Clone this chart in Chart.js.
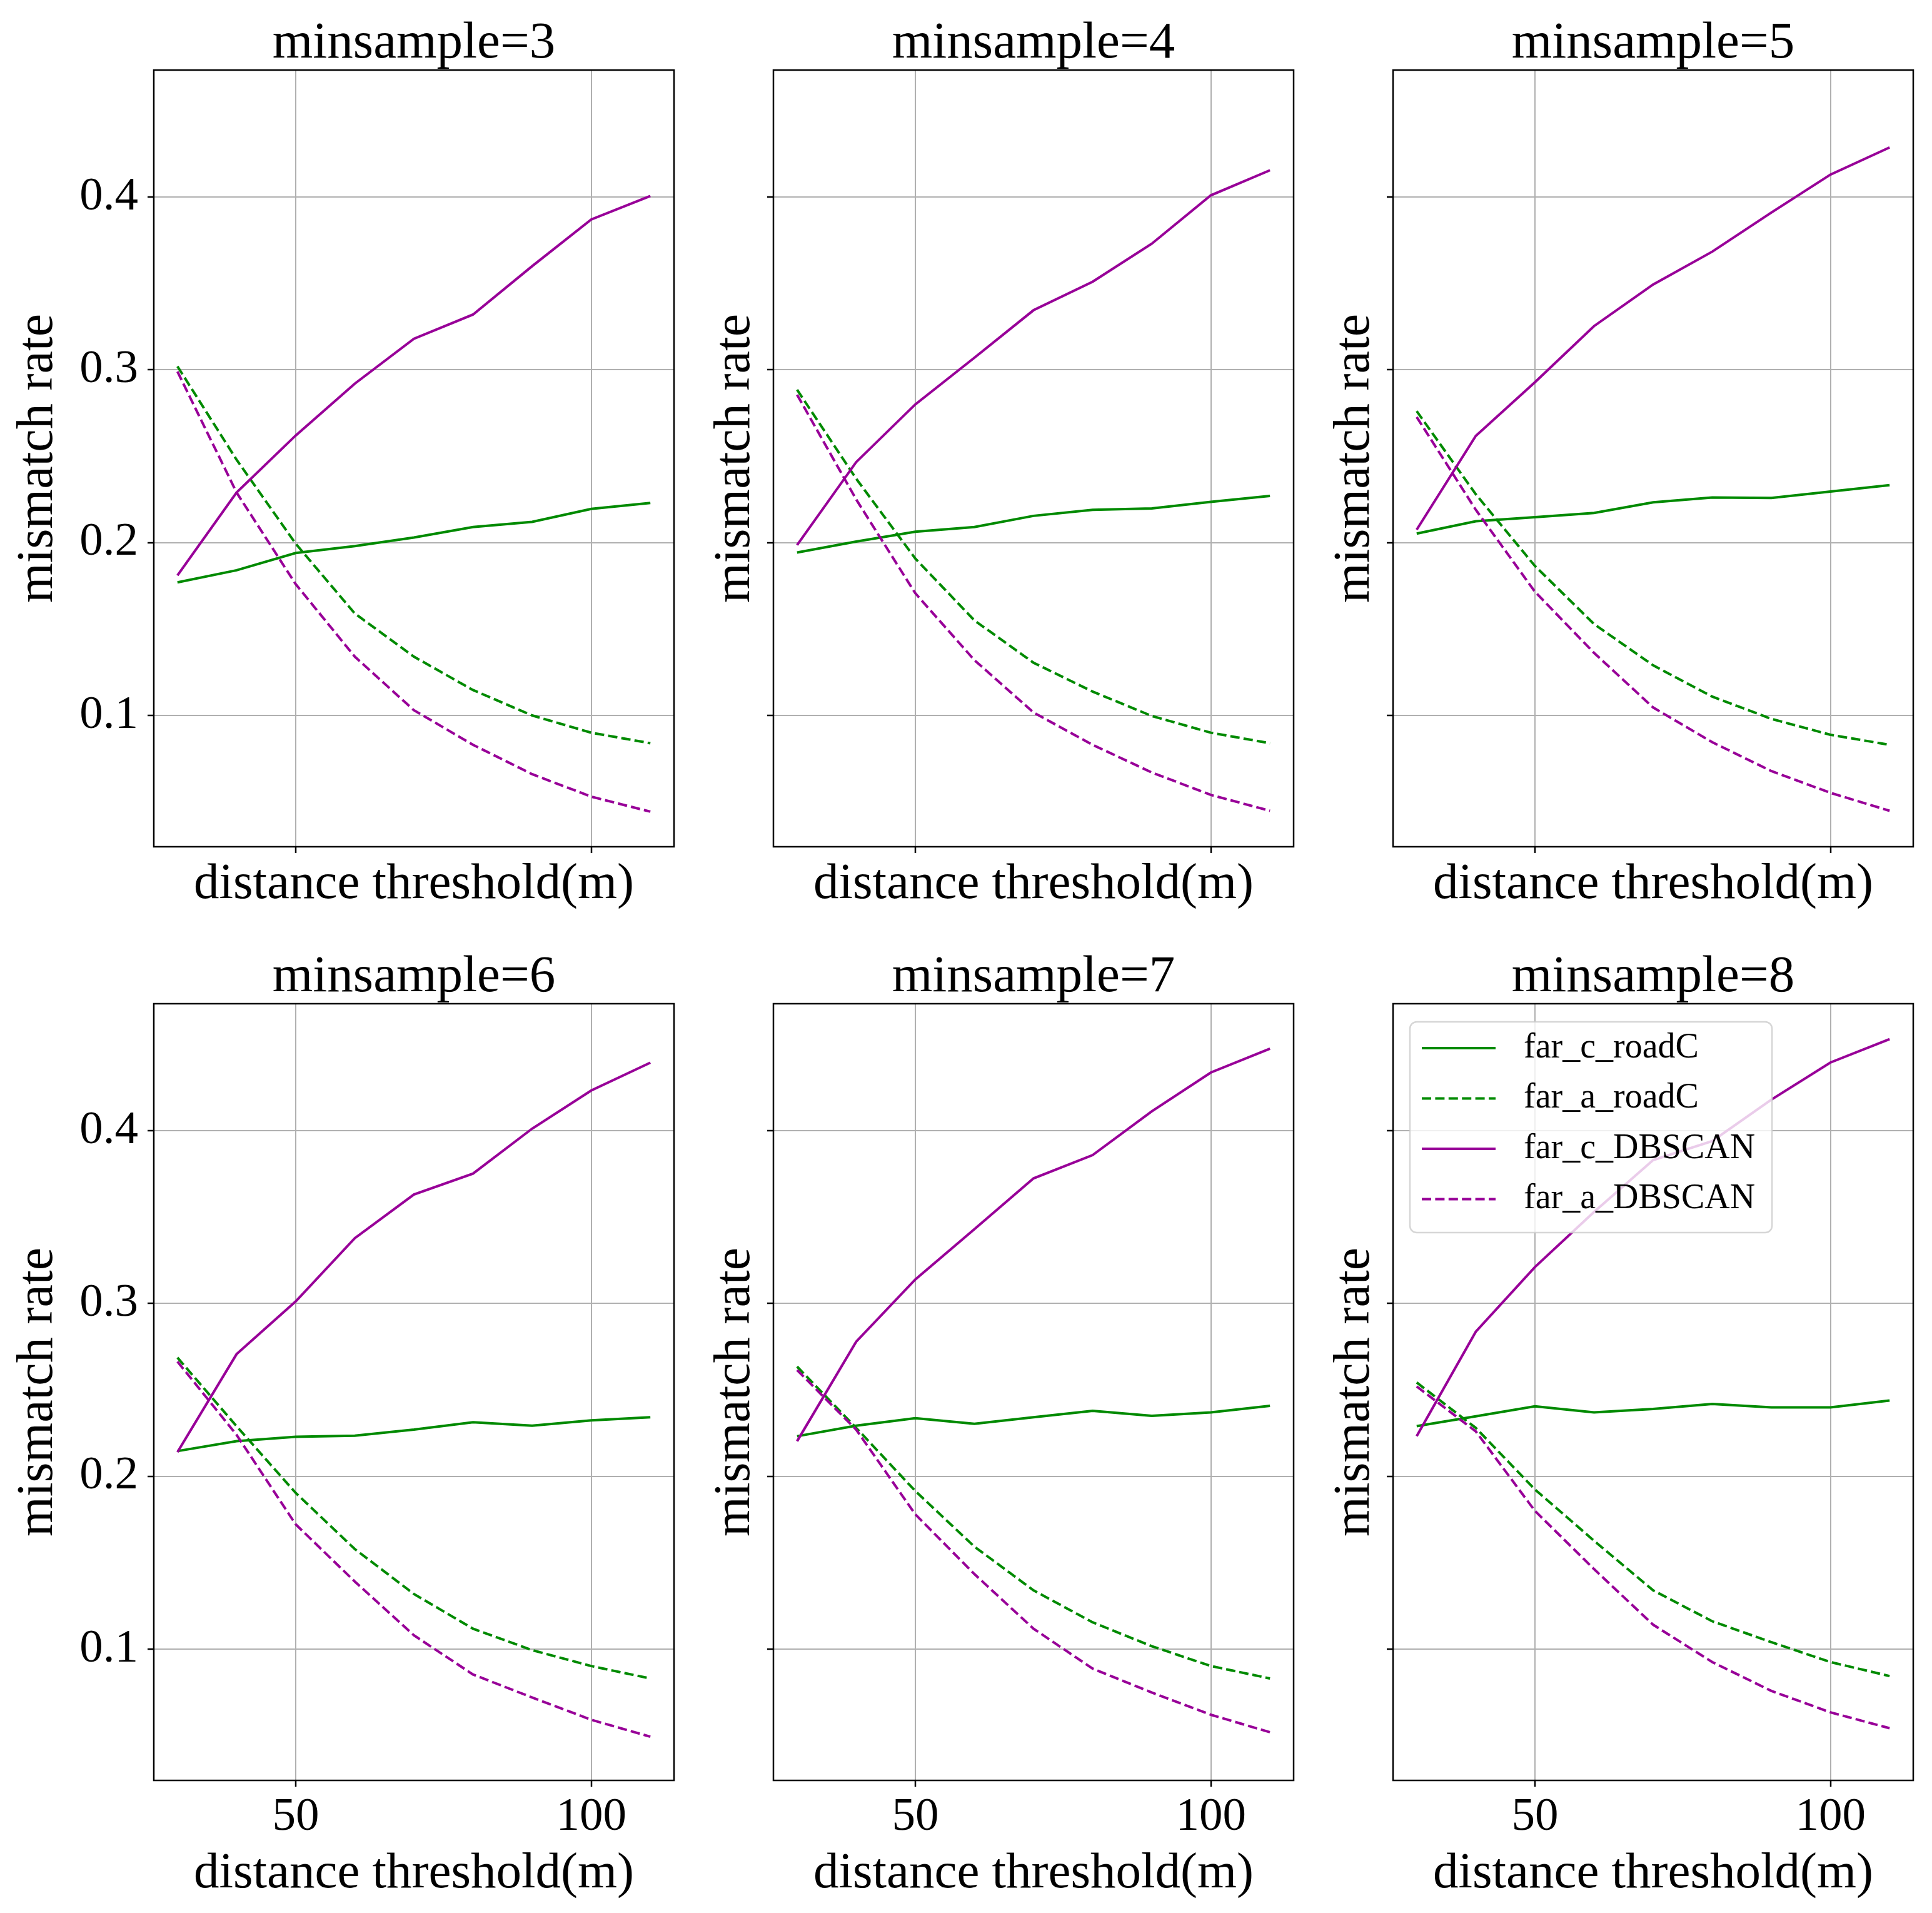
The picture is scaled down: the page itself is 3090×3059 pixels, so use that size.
<!DOCTYPE html>
<html lang="en">
<head>
<meta charset="UTF-8">
<title>mismatch rate vs distance threshold</title>
<script src="https://cdn.jsdelivr.net/npm/chart.js"></script>
<style>
  html, body { margin: 0; padding: 0; background: #fff; }
  body { width: 3090px; height: 3059px; position: relative; overflow: hidden; }
  canvas { position: absolute; }
</style>
</head>
<body>
<script>
// x values shared by every panel
const distances = [30, 40, 50, 60, 70, 80, 90, 100, 110];
const minSamples = [3, 4, 5, 6, 7, 8];

// one row per minsample value (3..8)
const farCRoadC = [
  [0.177, 0.184, 0.194, 0.198, 0.203, 0.209, 0.212, 0.2195, 0.223],
  [0.1943, 0.2006, 0.2063, 0.209, 0.2155, 0.219, 0.2198, 0.2236, 0.227],
  [0.2052, 0.2124, 0.2147, 0.2172, 0.2233, 0.2261, 0.2259, 0.2296, 0.2333],
  [0.2146, 0.2203, 0.2229, 0.2235, 0.227, 0.2313, 0.2293, 0.2324, 0.2342],
  [0.2232, 0.2293, 0.2336, 0.2304, 0.2342, 0.2379, 0.235, 0.237, 0.2408],
  [0.229, 0.2347, 0.2405, 0.237, 0.239, 0.2419, 0.2399, 0.2399, 0.2439]
];
const farARoadC = [
  [0.302, 0.248, 0.1994, 0.159, 0.134, 0.1147, 0.100, 0.090, 0.0839],
  [0.2885, 0.237, 0.1908, 0.155, 0.1305, 0.1138, 0.0997, 0.090, 0.0839],
  [0.2761, 0.228, 0.1865, 0.1529, 0.129, 0.1109, 0.098, 0.0888, 0.083],
  [0.2687, 0.229, 0.1904, 0.1579, 0.1319, 0.1118, 0.0994, 0.0902, 0.083],
  [0.2635, 0.228, 0.1915, 0.1593, 0.134, 0.1155, 0.1017, 0.0902, 0.083],
  [0.2543, 0.228, 0.1924, 0.1627, 0.134, 0.1161, 0.104, 0.0925, 0.0844]
];
const farCDBSCAN = [
  [0.181, 0.229, 0.262, 0.292, 0.318, 0.332, 0.360, 0.387, 0.4006],
  [0.1986, 0.2466, 0.280, 0.307, 0.3345, 0.351, 0.373, 0.401, 0.4155],
  [0.2075, 0.2618, 0.2928, 0.3253, 0.3494, 0.3684, 0.391, 0.413, 0.4287],
  [0.214, 0.2707, 0.3012, 0.3378, 0.3631, 0.3752, 0.4012, 0.4233, 0.4394],
  [0.2203, 0.2779, 0.3139, 0.343, 0.3724, 0.3859, 0.4112, 0.4337, 0.4475],
  [0.2232, 0.2837, 0.3211, 0.353, 0.383, 0.394, 0.418, 0.4395, 0.453]
];
const farADBSCAN = [
  [0.299, 0.229, 0.176, 0.134, 0.103, 0.083, 0.066, 0.053, 0.0443],
  [0.2856, 0.225, 0.1707, 0.132, 0.1017, 0.083, 0.067, 0.054, 0.0448],
  [0.2727, 0.219, 0.1716, 0.1362, 0.1046, 0.0845, 0.0678, 0.0552, 0.0448],
  [0.2664, 0.224, 0.1722, 0.1391, 0.108, 0.0853, 0.072, 0.0591, 0.0493],
  [0.2615, 0.227, 0.178, 0.1434, 0.1118, 0.0887, 0.0749, 0.062, 0.0519],
  [0.252, 0.226, 0.18, 0.1463, 0.1141, 0.0925, 0.0758, 0.0634, 0.0542]
];

const seriesNames = ['far_c_roadC', 'far_a_roadC', 'far_c_DBSCAN', 'far_a_DBSCAN'];
const xTicks = [50, 100];
const yTicks = [0.1, 0.2, 0.3, 0.4];

// styling / layout
const FONT = "'Liberation Serif', 'Times New Roman', serif";
const GREEN = '#008a00';
const PURPLE = '#980098';
const DASH = [15, 6.4];
const LINE_W = 4;
const seriesStyle = [
  { color: GREEN, dash: [] },
  { color: GREEN, dash: DASH },
  { color: PURPLE, dash: [] },
  { color: PURPLE, dash: DASH }
];

const axesLeft = [246, 1237, 2228];
const axesWidth = 832;
const axesTop = [112, 1605];
const axesHeight = 1242;
const canvasTop = [0, 1480];
const canvasBottom = [1474, 3059];
const PAD_RIGHT = 10;

// black frame around the plotting area (all four spines)
const framePlugin = {
  id: 'frame',
  afterDatasetsDraw(chart) {
    const { ctx, chartArea: a } = chart;
    ctx.save();
    ctx.strokeStyle = '#000';
    ctx.lineWidth = 2.5;
    ctx.strokeRect(a.left, a.top, a.right - a.left, a.bottom - a.top);
    ctx.restore();
  }
};

// matplotlib-like legend box in the upper-left corner of the axes
const boxLegendPlugin = {
  id: 'boxLegend',
  afterDraw(chart, args, opts) {
    if (!opts.show) return;
    const { ctx, chartArea: a } = chart;
    const x0 = a.left + 27, y0 = a.top + 29;
    ctx.save();
    ctx.font = '56px ' + FONT;
    const textW = Math.max(...chart.data.datasets.map(d => ctx.measureText(d.label).width));
    const w = 182 + textW + 27, h = 337, r = 11;
    ctx.beginPath();
    ctx.roundRect(x0, y0, w, h, r);
    ctx.fillStyle = 'rgba(255,255,255,0.8)';
    ctx.fill();
    ctx.lineWidth = 2.5;
    ctx.strokeStyle = 'rgba(204,204,204,0.8)';
    ctx.stroke();
    chart.data.datasets.forEach((d, i) => {
      const cy = y0 + 42 + i * 80.5;
      ctx.beginPath();
      ctx.setLineDash(d.borderDash || []);
      ctx.strokeStyle = d.borderColor;
      ctx.lineWidth = LINE_W;
      ctx.moveTo(x0 + 19, cy);
      ctx.lineTo(x0 + 137, cy);
      ctx.stroke();
      ctx.setLineDash([]);
      ctx.fillStyle = '#000';
      ctx.textBaseline = 'middle';
      ctx.textAlign = 'left';
      ctx.fillText(d.label, x0 + 182, cy);
    });
    ctx.restore();
  }
};

const allSeries = [farCRoadC, farARoadC, farCDBSCAN, farADBSCAN];

minSamples.forEach((ms, p) => {
  const row = Math.floor(p / 3), col = p % 3;
  const left = col === 0 ? 0 : axesLeft[col] - 160;
  const yBoxW = axesLeft[col] - left;
  const top = canvasTop[row];
  const titleBox = axesTop[row] - top;
  const xBoxH = canvasBottom[row] - (axesTop[row] + axesHeight);
  const width = yBoxW + axesWidth + PAD_RIGHT;
  const height = canvasBottom[row] - top;

  const canvas = document.createElement('canvas');
  canvas.width = width;
  canvas.height = height;
  canvas.style.left = left + 'px';
  canvas.style.top = top + 'px';
  document.body.appendChild(canvas);

  const datasets = allSeries.map((s, i) => ({
    label: seriesNames[i],
    data: distances.map((x, k) => ({ x: x, y: s[p][k] })),
    borderColor: seriesStyle[i].color,
    borderDash: seriesStyle[i].dash,
    borderWidth: LINE_W,
    pointRadius: 0,
    tension: 0,
    fill: false,
    order: 3 - i
  }));

  new Chart(canvas.getContext('2d'), {
    type: 'line',
    data: { datasets },
    options: {
      responsive: false,
      animation: false,
      devicePixelRatio: 1,
      events: [],
      layout: { padding: { right: PAD_RIGHT } },
      scales: {
        x: {
          type: 'linear',
          min: 26,
          max: 114,
          afterBuildTicks: s => { s.ticks = xTicks.map(v => ({ value: v })); },
          afterFit: s => { s.height = xBoxH; },
          border: { display: false },
          grid: { color: '#b0b0b0', lineWidth: 2, tickLength: 10, tickColor: '#000', tickWidth: 2.5 },
          ticks: {
            display: row === 1,
            padding: 12,
            color: '#000',
            font: { family: FONT, size: 75, lineHeight: 1 },
            maxRotation: 0,
            callback: v => String(v)
          },
          title: {
            display: true,
            text: 'distance threshold(m)',
            color: '#000',
            font: { family: FONT, size: 81, lineHeight: 1 },
            padding: { top: 0, bottom: row === 0 ? 18.5 : 22 }
          }
        },
        y: {
          type: 'linear',
          min: 0.024,
          max: 0.4735,
          afterBuildTicks: s => { s.ticks = yTicks.map(v => ({ value: v })); },
          afterFit: s => { s.width = yBoxW; },
          border: { display: false },
          grid: { color: '#b0b0b0', lineWidth: 2, tickLength: 10, tickColor: '#000', tickWidth: 2.5 },
          ticks: {
            display: col === 0,
            padding: 15,
            color: '#000',
            font: { family: FONT, size: 75, lineHeight: 1 },
            callback: v => Number(v).toFixed(1)
          },
          title: {
            display: true,
            text: 'mismatch rate',
            color: '#000',
            font: { family: FONT, size: 82, lineHeight: 1 },
            padding: { top: col === 0 ? 20.5 : 58.5, bottom: 0 }
          }
        }
      },
      plugins: {
        legend: { display: false },
        tooltip: { enabled: false },
        title: {
          display: true,
          fullSize: false,
          text: 'minsample=' + ms,
          color: '#000',
          font: { family: FONT, size: 83, weight: 'normal', lineHeight: 1 },
          padding: { top: titleBox - 83, bottom: 0 }
        },
        boxLegend: { show: p === minSamples.length - 1 }
      }
    },
    plugins: [framePlugin, boxLegendPlugin]
  });
});
</script>
</body>
</html>
